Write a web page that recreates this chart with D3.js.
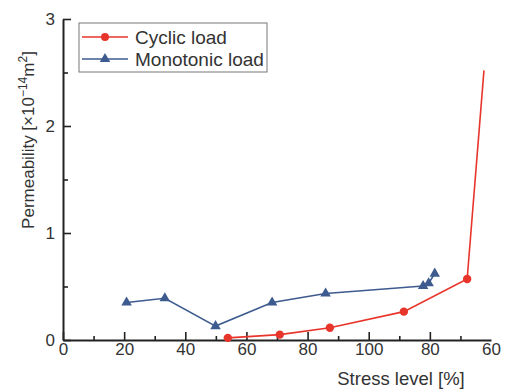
<!DOCTYPE html>
<meta charset="utf-8">
<style>
body { margin: 0; background: #fff; }
svg { font-family: "Liberation Sans", Arial, sans-serif; }
.axis path, .axis line { stroke: #222; }
.axis text { font-size: 17px; fill: #333; }
</style>
<body>
<svg id="chart" width="505" height="391"></svg>
<script src="https://cdn.jsdelivr.net/npm/d3@7"></script>
<script>

// values
var cyclicX = [53.9, 70.9, 87.3, 111.5, 132.2, 137.7];
var cyclicY = [0.02, 0.05, 0.115, 0.265, 0.57, 2.52];
var monoX = [20.8, 33.3, 49.9, 68.4, 85.9, 117.8, 119.6, 121.6];
var monoY = [0.35, 0.39, 0.13, 0.35, 0.435, 0.505, 0.53, 0.62];
var xTicks = [0, 20, 40, 60, 80, 100, 120, 140];
var xTickLabels = ["0", "20", "40", "60", "80", "100", "80", "60"];
var yTicks = [0, 1, 2, 3];
var seriesNames = ["Cyclic load", "Monotonic load"];

var svg = d3.select("#chart"),
    margin = {top: 19, right: 14, bottom: 51, left: 63},
    width = +svg.attr("width") - margin.left - margin.right,
    height = +svg.attr("height") - margin.top - margin.bottom;

var red = "#e8352b", blue = "#3e5b8f";

var x = d3.scaleLinear().domain([0, 140]).range([0, width]),
    y = d3.scaleLinear().domain([0, 3]).range([height, 0]);

var g = svg.append("g")
    .attr("transform", "translate(" + margin.left + "," + margin.top + ")");

// minor ticks
g.append("g")
    .attr("class", "axis")
    .attr("transform", "translate(0," + height + ")")
    .call(d3.axisBottom(x).tickValues(d3.range(10, 140, 20)).tickSize(-4).tickFormat(""))
    .call(function(s) { s.select(".domain").remove(); })
    .selectAll("line").attr("stroke-width", 1.6);

g.append("g")
    .attr("class", "axis")
    .call(d3.axisLeft(y).tickValues([0.5, 1.5, 2.5]).tickSize(-5).tickFormat(""))
    .call(function(s) { s.select(".domain").remove(); })
    .selectAll("line").attr("stroke-width", 1.6);

// major axes
var xAxis = g.append("g")
    .attr("class", "axis")
    .attr("transform", "translate(0," + height + ")")
    .call(d3.axisBottom(x).tickValues(xTicks).tickSize(-8).tickSizeOuter(0).tickPadding(3)
      .tickFormat(function(d, i) { return xTickLabels[i]; }));
xAxis.selectAll(".tick").filter(function(d) { return d === 140; }).select("line").remove();
xAxis.selectAll("line").attr("stroke-width", 1.6);
xAxis.select(".domain").attr("stroke-width", 2);

var yAxis = g.append("g")
    .attr("class", "axis")
    .call(d3.axisLeft(y).tickValues(yTicks).tickSize(-8).tickSizeOuter(0).tickPadding(8)
      .tickFormat(d3.format("d")));
yAxis.selectAll("line").attr("stroke-width", 1.6);
yAxis.select(".domain").attr("stroke-width", 2);

// axis titles
svg.append("text")
    .attr("x", 401)
    .attr("y", 385)
    .attr("text-anchor", "middle")
    .style("font-size", "18.5px")
    .attr("fill", "#333")
    .text("Stress level [%]");

var yt = svg.append("text")
    .attr("transform", "translate(34,140) rotate(-90)")
    .attr("text-anchor", "middle")
    .style("font-size", "17px")
    .attr("fill", "#333");
yt.append("tspan").text("Permeability [\u00d710");
yt.append("tspan").attr("dy", -7).style("font-size", "12px").text("\u221214");
yt.append("tspan").attr("dy", 7).text("m");
yt.append("tspan").attr("dy", -7).style("font-size", "12px").text("2");
yt.append("tspan").attr("dy", 7).text("]");

var line = d3.line()
    .x(function(d) { return x(d[0]); })
    .y(function(d) { return y(d[1]); });

var cyclic = cyclicX.map(function(v, i) { return [v, cyclicY[i]]; });
var mono = monoX.map(function(v, i) { return [v, monoY[i]]; });

g.append("path")
    .datum(mono)
    .attr("fill", "none")
    .attr("stroke", blue)
    .attr("stroke-width", 1.6)
    .attr("d", line);

g.append("path")
    .datum(cyclic)
    .attr("fill", "none")
    .attr("stroke", red)
    .attr("stroke-width", 1.6)
    .attr("d", line);

var tri = d3.symbol().type(d3.symbolTriangle).size(48);

g.selectAll(".mono")
    .data(mono)
  .enter().append("path")
    .attr("class", "mono")
    .attr("transform", function(d) { return "translate(" + x(d[0]) + "," + y(d[1]) + ")"; })
    .attr("d", tri)
    .attr("fill", blue);

// last cyclic point has no marker in the picture
g.selectAll(".cyc")
    .data(cyclic.slice(0, -1))
  .enter().append("circle")
    .attr("class", "cyc")
    .attr("cx", function(d) { return x(d[0]); })
    .attr("cy", function(d) { return y(d[1]); })
    .attr("r", 4.2)
    .attr("fill", red);

// legend
var legend = svg.append("g").attr("transform", "translate(79,23)");
legend.append("rect")
    .attr("width", 188)
    .attr("height", 49)
    .attr("fill", "#fff")
    .attr("stroke", "#777")
    .attr("stroke-width", 1);

var items = legend.selectAll(".item")
    .data(seriesNames)
  .enter().append("g")
    .attr("class", "item")
    .attr("transform", function(d, i) { return "translate(0," + (14 + i * 22) + ")"; });

items.append("line")
    .attr("x1", 3).attr("x2", 49)
    .attr("stroke", function(d, i) { return i ? blue : red; })
    .attr("stroke-width", 1.6);

items.each(function(d, i) {
  var it = d3.select(this);
  if (i === 0) it.append("circle").attr("cx", 26).attr("r", 4).attr("fill", red);
  else it.append("path").attr("transform", "translate(26,0)").attr("d", tri).attr("fill", blue);
});

items.append("text")
    .attr("x", 56)
    .attr("dy", "0.36em")
    .style("font-size", "19px")
    .attr("fill", "#333")
    .text(function(d) { return d; });

</script>
</body>
</html>
